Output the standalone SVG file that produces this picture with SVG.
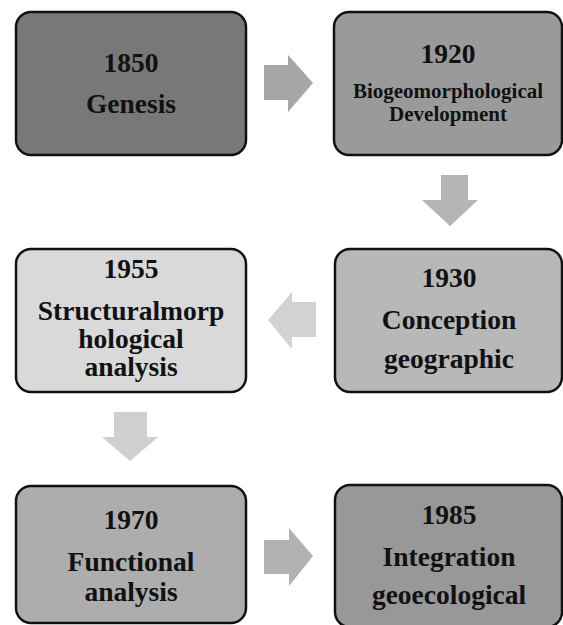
<svg xmlns="http://www.w3.org/2000/svg" width="563" height="625" viewBox="0 0 563 625">
<style>
.box{stroke:#111;stroke-width:2.5}
text{font-family:"Liberation Serif","Times New Roman",serif;font-weight:bold;fill:#111;text-anchor:middle}
.t{font-size:27.5px}
.s{font-size:21px}
</style>
<rect width="563" height="625" fill="#fff"/>
<g id="connectors">
<polygon id="a1" points="264,65 288,65 288,55 313,83 288,112 288,100 264,100" fill="#a6a6a6"/>
<polygon id="a2" points="441,175 468,175 468,200 478,200 450,226 422,200 441,200" fill="#b5b5b5"/>
<polygon id="a3" points="316,302 292,302 292,292 268,320 292,349 292,337 316,337" fill="#d2d2d2"/>
<polygon id="a4" points="114,412 147,412 147,437 158,437 130,461 102,437 114,437" fill="#cfcfcf"/>
<polygon id="a5" points="264,540 289,540 289,528 313,556 289,586 289,574 264,574" fill="#b2b2b2"/>
</g>
<g id="n1850">
<rect class="box" x="16" y="12" width="230" height="143" rx="15" fill="#787878"/>
<text class="t" x="131" y="72">1850</text>
<text class="t" x="131" y="113">Genesis</text>
</g>
<g id="n1920">
<rect class="box" x="334" y="12" width="228" height="143" rx="15" fill="#9a9a9a"/>
<text class="t" x="448" y="63">1920</text>
<text class="s" x="448" y="98">Biogeomorphological</text>
<text class="s" x="448" y="121">Development</text>
</g>
<g id="n1930">
<rect class="box" x="335" y="249" width="227" height="143" rx="15" fill="#b8b8b8"/>
<text class="t" x="449" y="287">1930</text>
<text class="t" x="449" y="329">Conception</text>
<text class="t" x="449" y="368">geographic</text>
</g>
<g id="n1955">
<rect class="box" x="16" y="249" width="230" height="143" rx="15" fill="#d9d9d9"/>
<text class="t" x="131" y="278">1955</text>
<text class="t" x="131" y="320">Structuralmorp</text>
<text class="t" x="131" y="348">hological</text>
<text class="t" x="131" y="376">analysis</text>
</g>
<g id="n1970">
<rect class="box" x="16" y="486" width="230" height="137" rx="15" fill="#adadad"/>
<text class="t" x="131" y="529">1970</text>
<text class="t" x="131" y="571">Functional</text>
<text class="t" x="131" y="601">analysis</text>
</g>
<g id="n1985">
<rect class="box" x="335" y="485" width="227" height="142" rx="15" fill="#989898"/>
<text class="t" x="449" y="524">1985</text>
<text class="t" x="449" y="566">Integration</text>
<text class="t" x="449" y="604">geoecological</text>
</g>
</svg>
